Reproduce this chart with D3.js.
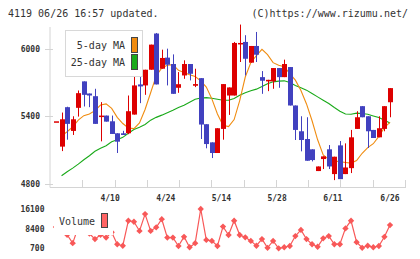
<!DOCTYPE html>
<html lang="en">

<head>
    <meta charset="UTF-8">
    <title>4119 chart</title>
    <script src="https://d3js.org/d3.v7.min.js"></script>
    <style>
        body {
            margin: 0;
            padding: 0;
            background: #fff;
            overflow: hidden;
        }

        text {
            font-family: "DejaVu Sans Mono", monospace;
            fill: #333;
        }

        .tick-label {
            font-size: 8px;
            font-weight: bold;
        }
    </style>
</head>

<body>
<script>
    const width = 420, height = 259;

    // trading days
    const dates = ["3/30", "3/31", "4/1", "4/2", "4/3", "4/6", "4/7", "4/8", "4/9", "4/10",
        "4/13", "4/14", "4/15", "4/16", "4/17", "4/20", "4/21", "4/22", "4/23", "4/24",
        "4/27", "4/28", "4/30", "5/1", "5/7", "5/8", "5/11", "5/12", "5/13", "5/14",
        "5/15", "5/18", "5/19", "5/20", "5/21", "5/22", "5/25", "5/26", "5/27", "5/28",
        "5/29", "6/1", "6/2", "6/3", "6/4", "6/5", "6/8", "6/9", "6/10", "6/11",
        "6/12", "6/15", "6/16", "6/17", "6/18", "6/19", "6/22", "6/23", "6/24", "6/25", "6/26"];

    const open = [5355, 5129, 5481, 5269, 5475, 5711, 5603, 5579, 5397, 5406,
        5355, 5248, 5248, 5248, 5415, 5684, 5675, 5815, 6138, 5824,
        5923, 5866, 5654, 5764, 5866, 5672, 5740, 5329, 5167, 5072,
        5287, 5585, 5585, 6050, 6063, 5878, 6027, 5749, 5711, 5711,
        5830, 5749, 5839, 5496, 5266, 5197, 5105, 4911, 5018, 5105,
        4884, 5140, 4884, 4937, 5287, 5490, 5400, 5278, 5212, 5287, 5525];
    const high = [5355, 5433, 5485, 5400, 5630, 5711, 5603, 5645, 5526, 5406,
        5406, 5248, 5270, 5585, 5755, 5755, 5815, 6039, 6143, 5994,
        6003, 5952, 5794, 5899, 5866, 5824, 5740, 5329, 5167, 5293,
        5687, 5657, 6063, 6218, 6123, 6027, 6152, 5803, 5725, 5830,
        5830, 5905, 5839, 5496, 5400, 5391, 5105, 4952, 5042, 5143,
        5039, 5179, 5158, 5278, 5445, 5490, 5400, 5278, 5400, 5490, 5651];
    const low = [5355, 5089, 5191, 5233, 5397, 5487, 5481, 5332, 5176, 5352,
        5242, 5072, 5233, 5240, 5415, 5517, 5591, 5815, 5684, 5824,
        5675, 5600, 5609, 5734, 5720, 5660, 5197, 5114, 5027, 5072,
        5191, 5412, 5585, 5884, 5764, 5878, 5884, 5600, 5624, 5645,
        5654, 5749, 5496, 5188, 5087, 5003, 4997, 4911, 4929, 4929,
        4830, 4839, 4884, 4893, 5287, 5391, 5117, 5206, 5212, 5266, 5391];
    const close = [5355, 5373, 5332, 5373, 5606, 5591, 5585, 5332, 5406, 5352,
        5242, 5173, 5233, 5445, 5675, 5666, 5815, 6039, 5684, 5920,
        5860, 5600, 5686, 5866, 5779, 5687, 5326, 5152, 5072, 5293,
        5687, 5657, 6054, 6054, 5913, 6027, 5949, 5717, 5725, 5830,
        5749, 5866, 5496, 5278, 5188, 5003, 5009, 4952, 5042, 4952,
        5039, 4839, 4943, 5212, 5391, 5391, 5266, 5206, 5293, 5490, 5651];

    // moving averages (first day has no value)
    const ma5 = [null, 5225, 5262, 5305, 5365, 5405, 5420, 5450, 5500, 5510,
        5470, 5390, 5335, 5295, 5290, 5340, 5460, 5610, 5760, 5830,
        5855, 5860, 5810, 5790, 5770, 5755, 5715, 5660, 5555, 5420,
        5320, 5308, 5370, 5540, 5750, 5880, 5940, 5997, 5950, 5878,
        5855, 5842, 5780, 5722, 5630, 5510, 5360, 5190, 5055, 5015,
        5000, 4995, 4988, 4982, 5005, 5070, 5120, 5155, 5220, 5300, 5345];
    const ma25 = [null, 4869, 4905, 4937, 4973, 5012, 5048, 5087, 5114, 5137,
        5173, 5191, 5212, 5248, 5281, 5302, 5326, 5365, 5390, 5410,
        5432, 5454, 5478, 5499, 5525, 5552, 5563, 5566, 5561, 5552,
        5543, 5543, 5558, 5588, 5609, 5627, 5642, 5665, 5690, 5707,
        5713, 5716, 5701, 5675, 5654, 5633, 5603, 5573, 5543, 5513,
        5478, 5445, 5420, 5418, 5428, 5424, 5418, 5403, 5388, 5364, 5340];

    const volume = [9000, 12000, 6000, 2700, 9000, 8000, 6500, 4300, 6000, 4900,
        7000, 2300, 1700, 11500, 11100, 7500, 14100, 7500, 8900, 12100,
        4900, 4900, 1600, 5200, 1100, 2700, 16100, 4000, 3600, 1600,
        9200, 5900, 11500, 5900, 5000, 3600, 1700, 4300, 900, 3600,
        700, 1100, 1600, 5500, 7900, 4300, 2300, 1300, 4600, 5500,
        2300, 2300, 8500, 11500, 3100, 900, 1700, 1100, 1600, 5200, 9800];

    const priceTicks = [4800, 5400, 6000];
    const volumeTicks = [700, 8400, 16100];
    const dateLabels = ["4/10", "4/24", "5/14", "5/28", "6/11", "6/26"];

    const svg = d3.select("body").append("svg")
        .attr("width", width)
        .attr("height", height);

    const x = d3.scalePoint().domain(dates).range([56, 390]);
    const y = d3.scaleLinear().domain([4800, 6000]).range([183.5, 49]);
    const yv = d3.scaleLinear().domain([700, 16100]).range([248.3, 209]);

    const axisColor = "#d4d4d4";

    // header
    svg.append("text").attr("x", 8).attr("y", 16.5)
        .style("font-size", "10px").text("4119 06/26 16:57 updated.");
    svg.append("text").attr("x", 408).attr("y", 16.5).attr("text-anchor", "end")
        .style("font-size", "10px").text("(C)https://www.rizumu.net/");

    // axes
    svg.append("line").attr("x1", 50).attr("x2", 50).attr("y1", 27).attr("y2", 187.5)
        .attr("stroke", axisColor);
    svg.append("line").attr("x1", 50).attr("x2", 406).attr("y1", 187.5).attr("y2", 187.5)
        .attr("stroke", axisColor);
    d3.range(1, 12).forEach(i => {
        const tx = Math.round(50 + i * 355 / 11) + 0.5;
        svg.append("line").attr("x1", tx).attr("x2", tx).attr("y1", 180).attr("y2", 187.5)
            .attr("stroke", axisColor);
    });

    priceTicks.forEach(t => {
        svg.append("line").attr("x1", 45).attr("x2", 53)
            .attr("y1", Math.round(y(t)) + 0.5).attr("y2", Math.round(y(t)) + 0.5)
            .attr("stroke", axisColor);
        svg.append("text").attr("class", "tick-label").attr("x", 40).attr("y", y(t) + 3)
            .attr("text-anchor", "end").text(t);
    });

    volumeTicks.forEach(t => {
        svg.append("text").attr("class", "tick-label").attr("x", 44.5).attr("y", yv(t) + 3)
            .attr("text-anchor", "end").text(t);
    });

    dateLabels.forEach(d => {
        const cx = Math.min(x(d) + 4, 390);
        svg.append("text").attr("class", "tick-label").attr("x", cx).attr("y", 201)
            .attr("text-anchor", "middle").text(d);
    });

    // moving averages (under the candles)
    const maLine = arr => d3.line()
        .defined((d, i) => arr[i] != null)
        .x((d, i) => x(dates[i]))
        .y((d, i) => y(arr[i]));

    svg.append("path").datum(ma25).attr("d", maLine(ma25))
        .attr("fill", "none").attr("stroke", "#1aaa1a").attr("stroke-width", 1.1);
    svg.append("path").datum(ma5).attr("d", maLine(ma5))
        .attr("fill", "none").attr("stroke", "#f08c10").attr("stroke-width", 1.1);

    // candles
    const up = "#dd0000", down = "#4141bf";
    const candles = svg.append("g").selectAll("g")
        .data(dates)
        .enter().append("g");

    candles.append("line")
        .attr("x1", (d, i) => Math.round(x(d)) + 0.5)
        .attr("x2", (d, i) => Math.round(x(d)) + 0.5)
        .attr("y1", (d, i) => y(high[i]))
        .attr("y2", (d, i) => y(low[i]))
        .attr("stroke", (d, i) => close[i] >= open[i] ? up : down);

    candles.append("rect")
        .attr("x", (d, i) => Math.round(x(d)) - 2)
        .attr("width", 5)
        .attr("y", (d, i) => y(Math.max(open[i], close[i])))
        .attr("height", (d, i) => Math.max(1.5, Math.abs(y(open[i]) - y(close[i]))))
        .attr("fill", (d, i) => close[i] >= open[i] ? up : down);

    // legend
    svg.append("rect").attr("x", 65.5).attr("y", 30.5).attr("width", 77).attr("height", 46)
        .attr("fill", "#fff").attr("stroke", "#d8d8d8");
    svg.append("text").attr("x", 125).attr("y", 49).attr("text-anchor", "end")
        .style("font-size", "10px").text("5-day MA");
    svg.append("text").attr("x", 125).attr("y", 66).attr("text-anchor", "end")
        .style("font-size", "10px").text("25-day MA");
    svg.append("rect").attr("x", 131.5).attr("y", 37.5).attr("width", 6).attr("height", 15)
        .attr("fill", "#f08c10").attr("stroke", "#444");
    svg.append("rect").attr("x", 131.5).attr("y", 54.5).attr("width", 6).attr("height", 15)
        .attr("fill", "#1aaa1a").attr("stroke", "#444");

    // volume
    const volColor = "#f85858";
    svg.append("path").datum(volume)
        .attr("d", d3.line().x((d, i) => x(dates[i])).y(d => yv(d)))
        .attr("fill", "none").attr("stroke", volColor).attr("stroke-width", 1.2);
    svg.append("g").selectAll("path")
        .data(volume)
        .enter().append("path")
        .attr("d", d3.symbol(d3.symbolSquare, 20))
        .attr("transform", (d, i) => `translate(${x(dates[i])},${yv(d)}) rotate(45)`)
        .attr("fill", volColor);

    svg.append("rect").attr("x", 54).attr("y", 205).attr("width", 59).attr("height", 30)
        .attr("fill", "#fff");
    svg.append("text").attr("x", 59).attr("y", 225).style("font-size", "10px").text("Volume");
    svg.append("rect").attr("x", 101.5).attr("y", 213.5).attr("width", 6).attr("height", 14)
        .attr("fill", "#ff6464").attr("stroke", "#444");
</script>
</body>

</html>
